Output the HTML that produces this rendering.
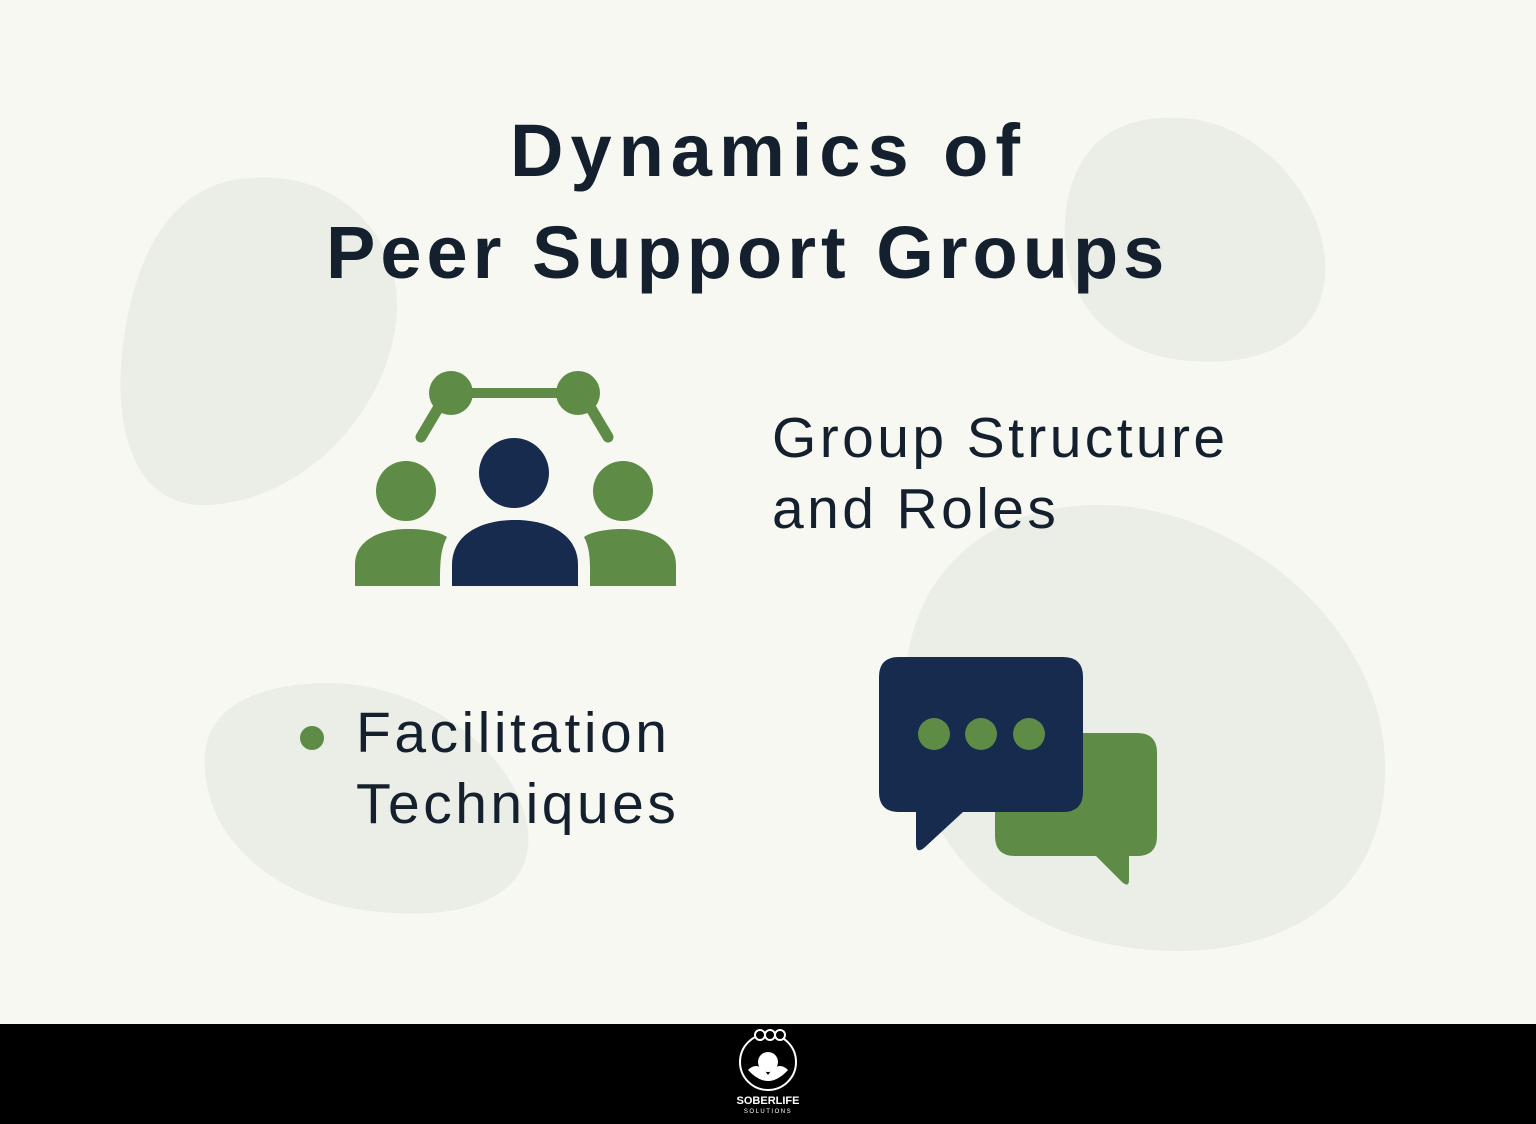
<!DOCTYPE html>
<html><head><meta charset="utf-8"><style>
html,body{margin:0;padding:0}
body{width:1536px;height:1124px;position:relative;overflow:hidden;background:#f8f8f3;font-family:"Liberation Sans",sans-serif;color:#14202e}
.t{position:absolute;white-space:nowrap}
</style></head><body>
<svg width="1536" height="1124" style="position:absolute;left:0;top:0">
<g fill="#ebeee6">
<path d="M250 178 C340 170 410 240 395 330 C380 420 300 500 210 505 C130 510 110 420 125 330 C140 240 180 182 250 178Z"/>
<path d="M1160 118 C1250 110 1320 190 1325 260 C1330 340 1260 370 1180 360 C1100 350 1060 290 1065 220 C1070 160 1100 122 1160 118Z"/>
<path d="M1090 505 C1230 500 1380 620 1385 760 C1390 900 1280 960 1150 950 C1020 940 920 860 905 720 C895 590 970 510 1090 505Z"/>
<path d="M320 683 C430 680 520 760 528 830 C535 900 460 920 380 912 C290 905 210 850 205 770 C200 710 250 686 320 683Z"/>
</g>
<g fill="#5e8b45" stroke="#5e8b45">
<line x1="451" y1="393" x2="578" y2="393" stroke-width="10"/>
<line x1="440" y1="405" x2="421" y2="437" stroke-width="11" stroke-linecap="round"/>
<line x1="589" y1="405" x2="608" y2="437" stroke-width="11" stroke-linecap="round"/>
<circle cx="451" cy="393" r="22" stroke="none"/>
<circle cx="578" cy="393" r="22" stroke="none"/>
<circle cx="406" cy="491" r="30" stroke="none"/>
<circle cx="623" cy="491" r="30" stroke="none"/>
<path stroke="none" d="M355 586 L355 565 C355 540 380 529 408 529 C425 529 440 532 447 537 C440 550 440 565 440 586Z"/>
<path stroke="none" d="M676 586 L676 565 C676 540 651 529 623 529 C606 529 591 532 584 537 C591 550 590 565 590 586Z"/>
</g>
<g fill="#172b4f">
<circle cx="514" cy="473" r="35"/>
<path d="M452 586 L452 565 C452 535 480 520 515 520 C550 520 578 535 578 565 L578 586Z"/>
</g>
<path fill="#5e8b45" d="M1015 733 H1137 Q1157 733 1157 753 V836 Q1157 856 1137 856 H1129 V880 Q1129 888 1122 882 L1096 856 H1015 Q995 856 995 836 V753 Q995 733 1015 733Z"/>
<path fill="#172b4f" d="M899 657 H1063 Q1083 657 1083 677 V792 Q1083 812 1063 812 H963 L924 848 Q916 854 916 844 V812 H899 Q879 812 879 792 V677 Q879 657 899 657Z"/>
<g fill="#5e8b45"><circle cx="934" cy="734" r="16"/><circle cx="981" cy="734" r="16"/><circle cx="1029" cy="734" r="16"/><circle cx="312" cy="738" r="12"/></g>
<rect x="0" y="1024" width="1536" height="100" fill="#000"/>
<circle cx="768" cy="1062" r="28" fill="none" stroke="#fff" stroke-width="2"/>
<circle cx="760" cy="1035" r="5" fill="#000" stroke="#fff" stroke-width="2"/>
<circle cx="770" cy="1035" r="5" fill="#000" stroke="#fff" stroke-width="2"/>
<circle cx="780" cy="1035" r="5" fill="#000" stroke="#fff" stroke-width="2"/>
<path d="M748 1070 Q768 1092 788 1070 Q778 1060 768 1075 Q758 1060 748 1070Z" fill="#fff"/>
<circle cx="768" cy="1062" r="10" fill="#fff"/>
<text x="768" y="1104" fill="#fff" font-family="Liberation Sans" font-weight="bold" font-size="11" text-anchor="middle">SOBERLIFE</text>
<text x="768" y="1113" fill="#fff" font-family="Liberation Sans" font-size="6" letter-spacing="1.5" text-anchor="middle">SOLUTIONS</text>
</svg>
<div class="t" style="left:510px;top:100px;font-size:74px;font-weight:bold;line-height:102px;letter-spacing:7px">Dynamics of</div>
<div class="t" style="left:326px;top:202px;font-size:74px;font-weight:bold;line-height:102px;letter-spacing:5px">Peer Support Groups</div>
<div class="t" style="left:772px;top:403px;font-size:57px;line-height:71px;letter-spacing:3.4px">Group Structure<br>and Roles</div>
<div class="t" style="left:356px;top:698px;font-size:57px;line-height:71px;letter-spacing:3.5px">Facilitation<br>Techniques</div>
</body></html>
